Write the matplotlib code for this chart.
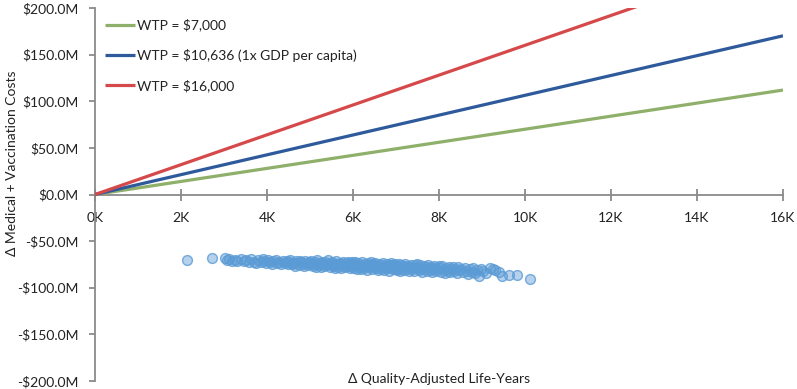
import matplotlib
matplotlib.use("Agg")
import matplotlib.pyplot as plt
from matplotlib.ticker import FuncFormatter, MultipleLocator

plt.rcParams['font.family'] = ['Lato', 'DejaVu Sans']

# WTP thresholds ($ per QALY)
wtp_labels = ["WTP = $7,000", "WTP = $10,636 (1x GDP per capita)", "WTP = $16,000"]
wtp_values = [7000, 10636, 16000]
wtp_colors = ["#8fb06a", "#2e5a9c", "#d6494a"]
line_x_k = [0, 16]  # thousand QALYs

# PSA scatter: delta QALYs (thousands), delta costs ($M)
qaly_k = [2.14, 2.72,
          3.02, 3.08, 3.12, 3.18, 3.25, 3.31, 3.40, 3.47,
          3.52, 3.58, 3.63, 3.70, 3.74, 3.79, 3.85, 3.90, 3.94, 3.98,
          4.02, 4.06, 4.11, 4.15, 4.20, 4.24, 4.29, 4.33, 4.38, 4.42, 4.46, 4.49,
          4.51, 4.54, 4.57, 4.61, 4.64, 4.67, 4.70, 4.74, 4.77, 4.80, 4.83, 4.86, 4.89, 4.92, 4.95, 4.98,
          5.01, 5.03, 5.06, 5.09, 5.11, 5.14, 5.17, 5.19, 5.22, 5.25, 5.27, 5.30, 5.33, 5.35, 5.38, 5.41, 5.43, 5.46, 5.48, 5.50,
          5.52, 5.54, 5.57, 5.59, 5.61, 5.64, 5.66, 5.69, 5.71, 5.73, 5.76, 5.78, 5.81, 5.83, 5.86, 5.88, 5.90, 5.92, 5.94, 5.96, 5.98, 5.99,
          6.01, 6.03, 6.05, 6.08, 6.10, 6.12, 6.14, 6.17, 6.19, 6.21, 6.23, 6.26, 6.28, 6.30, 6.32, 6.34, 6.37, 6.39, 6.41, 6.43, 6.45, 6.47, 6.49, 6.50,
          6.52, 6.54, 6.56, 6.58, 6.60, 6.63, 6.65, 6.67, 6.69, 6.71, 6.73, 6.76, 6.78, 6.80, 6.82, 6.84, 6.86, 6.88, 6.90, 6.92, 6.94, 6.96, 6.98, 6.99,
          7.01, 7.03, 7.06, 7.08, 7.10, 7.12, 7.15, 7.17, 7.19, 7.21, 7.24, 7.26, 7.28, 7.31, 7.33, 7.35, 7.38, 7.40, 7.42, 7.45, 7.47, 7.49,
          7.51, 7.54, 7.56, 7.59, 7.61, 7.64, 7.66, 7.69, 7.71, 7.74, 7.76, 7.79, 7.81, 7.84, 7.86, 7.89, 7.91, 7.94, 7.96, 7.99,
          8.02, 8.05, 8.08, 8.11, 8.14, 8.17, 8.20, 8.23, 8.26, 8.29, 8.32, 8.35, 8.38, 8.41, 8.44, 8.47,
          8.52, 8.56, 8.60, 8.64, 8.68, 8.72, 8.76, 8.80, 8.84, 8.88, 8.93, 8.97,
          9.03, 9.10, 9.19, 9.25, 9.30, 9.40, 9.47,
          9.63, 9.81, 10.12]
cost_m = [-70.0, -68.0,
          -68.5, -70.2, -69.0, -71.5, -69.8, -70.9, -68.9, -71.8,
          -70.4, -72.6, -69.6, -71.9, -73.0, -70.1, -72.2, -69.3, -71.4, -73.4,
          -70.6, -72.9, -74.3, -71.2, -69.9, -73.6, -72.1, -75.0, -70.8, -73.3, -71.7, -74.6,
          -72.4, -70.3, -74.8, -73.1, -76.2, -71.6, -73.9, -75.4, -70.9, -72.8, -74.4, -76.5, -71.2, -73.6, -75.1, -72.0,
          -73.8, -71.0, -76.4, -74.9, -72.3, -77.6, -70.7, -75.2, -73.4, -78.1, -71.9, -74.6, -76.9, -72.8, -75.7, -70.4, -74.1, -77.3, -73.0, -75.9,
          -72.1, -76.8, -74.3, -78.6, -71.6, -75.0, -77.4, -73.2, -79.3, -74.7, -72.5, -76.2, -78.0, -73.8, -75.6, -71.9, -77.1, -74.0, -79.0, -75.3, -72.8, -76.6,
          -74.2, -78.3, -72.6, -76.0, -80.1, -73.7, -77.5, -75.1, -79.4, -72.9, -76.8, -78.9, -74.5, -77.0, -80.6, -73.3, -75.8, -78.1, -76.3, -72.4, -79.7, -74.9, -77.8, -75.5,
          -73.6, -78.7, -76.2, -81.0, -74.8, -77.9, -79.8, -75.4, -73.1, -78.2, -80.5, -76.7, -74.3, -79.1, -77.3, -81.6, -75.9, -73.9, -78.5, -80.2, -76.0, -77.6, -74.6, -79.5,
          -76.9, -80.8, -74.7, -78.6, -82.0, -75.8, -79.4, -77.2, -81.3, -74.1, -78.0, -80.1, -76.5, -82.4, -77.7, -75.2, -79.9, -78.3, -81.7, -76.1, -79.0, -74.9,
          -77.4, -81.5, -75.6, -79.7, -83.0, -77.0, -80.4, -78.2, -82.3, -75.9, -79.3, -81.0, -77.8, -83.4, -80.0, -76.4, -78.8, -82.0, -79.9, -77.1,
          -78.5, -82.6, -76.8, -80.9, -84.0, -79.2, -81.7, -77.6, -83.1, -80.3, -78.1, -82.2, -79.6, -84.4, -77.9, -81.2,
          -79.8, -83.5, -78.3, -81.9, -85.0, -80.4, -82.8, -78.9, -84.3, -81.1, -87.5, -79.5,
          -82.0, -84.6, -79.0, -80.0, -81.0, -83.0, -87.3,
          -86.0, -86.0, -90.5]

fig = plt.figure(figsize=(7.97, 3.89), dpi=100)
ax = fig.add_axes([95/797, 8/389, 688/797, 373/389])

for lab, w, c in zip(wtp_labels, wtp_values, wtp_colors):
    ys = [x * 1000 * w / 1e6 for x in line_x_k]
    ax.plot(line_x_k, ys, color=c, lw=2.3, label=lab, solid_capstyle='butt', zorder=3)

ax.scatter(qaly_k, cost_m, s=50, facecolor=(0.357, 0.608, 0.835, 0.45),
           edgecolor=(0.357, 0.608, 0.835, 0.8), linewidth=1.0, zorder=2)

ax.set_xlim(0, 16)
ax.set_ylim(-200, 200)
ax.xaxis.set_major_locator(MultipleLocator(2))
ax.yaxis.set_major_locator(MultipleLocator(50))
ax.xaxis.set_major_formatter(FuncFormatter(lambda v, p: f"{int(v)}K"))
ax.yaxis.set_major_formatter(FuncFormatter(lambda v, p: (f"-${abs(v):.1f}M" if v < 0 else f"${v:.1f}M")))

for s in ['top', 'right']:
    ax.spines[s].set_visible(False)
ax.spines['bottom'].set_position(('data', 0))
for s in ['left', 'bottom']:
    ax.spines[s].set_color('#8a8a8a')
    ax.spines[s].set_linewidth(1.3)

fs = 10
ax.tick_params(axis='x', direction='inout', length=9, width=1.3, color='#8a8a8a',
               labelsize=fs, pad=8, labelcolor='#222222')
ax.tick_params(axis='y', direction='out', length=4, width=1.3, color='#8a8a8a',
               labelsize=fs, pad=8, labelcolor='#222222')

ax.set_ylabel("Δ Medical + Vaccination Costs", fontsize=fs, color='#222222')
ax.yaxis.set_label_coords((18 - 95) / 688, 0.585)
ax.text(0.5, 0.005, "Δ Quality-Adjusted Life-Years", transform=ax.transAxes,
        ha='center', va='center', fontsize=fs, color='#222222')

leg = ax.legend(loc='upper left', bbox_to_anchor=(-0.004, 1.005), frameon=False,
                fontsize=fs, handlelength=2.2, handletextpad=0.15, labelspacing=1.25,
                borderaxespad=0.5)
for t in leg.get_texts():
    t.set_color('#222222')

fig.savefig("out.png", dpi=100)
